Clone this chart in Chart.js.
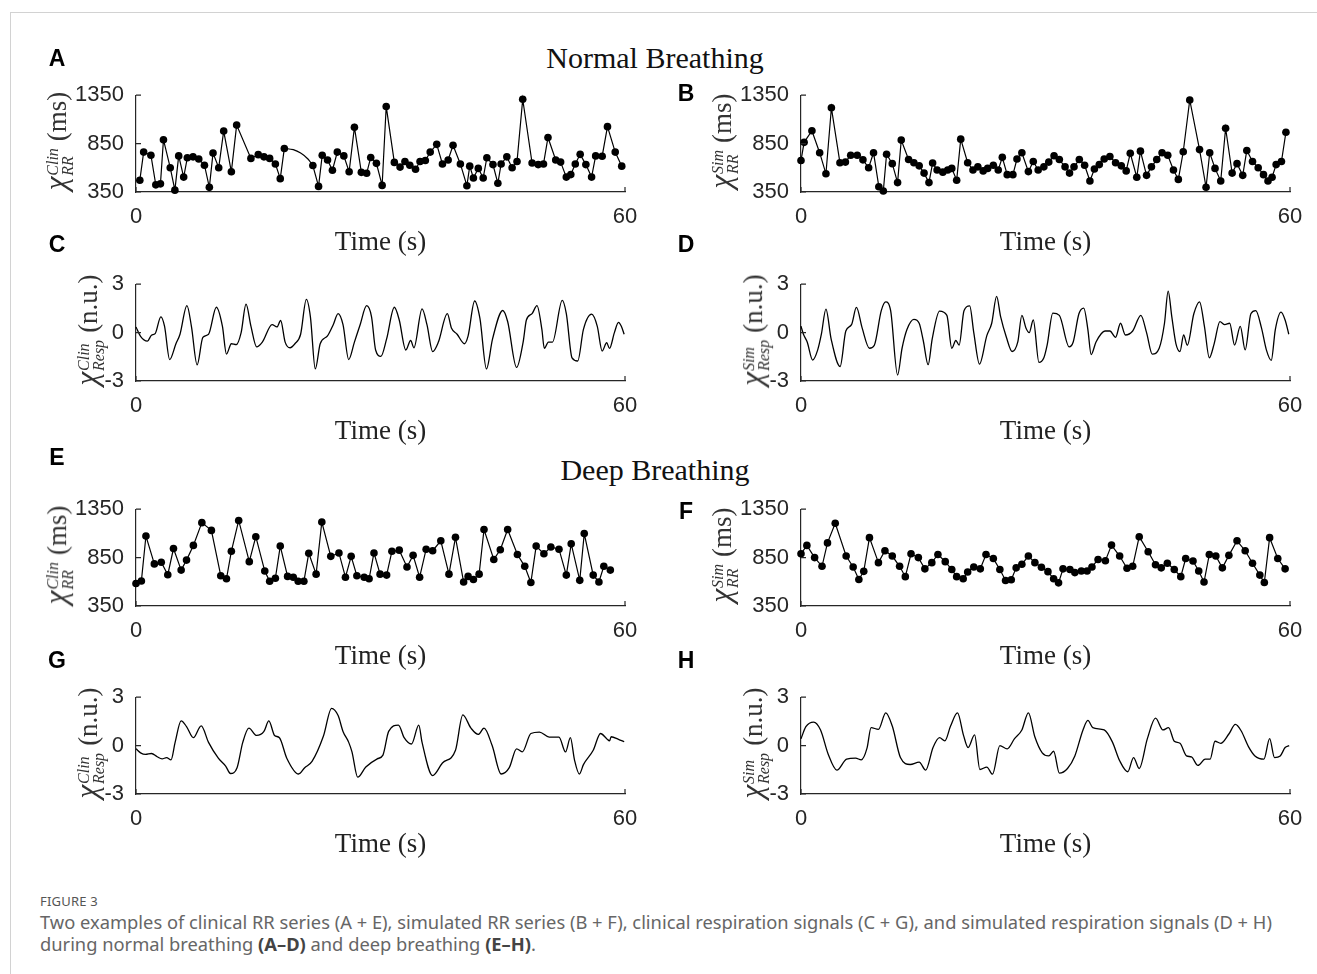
<!DOCTYPE html>
<html>
<head>
<meta charset="utf-8">
<script src="https://cdn.jsdelivr.net/npm/chart.js@4.4.1/dist/chart.umd.min.js"></script>
<style>
  html, body { margin: 0; padding: 0; background: #fff; overflow: hidden; }
  #page { position: relative; width: 1317px; height: 974px; overflow: hidden; }
  #frame { position: absolute; left: 10px; top: 12px; width: 1320px; height: 970px;
           border-left: 1.5px solid #d2d2d2; border-top: 1.5px solid #d2d2d2; }
  canvas { position: absolute; }
  .letter { position: absolute; transform: translate(-50%, -50%);
            font: bold 23px "Liberation Sans", Arial, sans-serif; color: #000; }
  .title { position: absolute; transform: translate(-50%, -50%); white-space: nowrap;
           font: 30px "Liberation Serif", "Times New Roman", serif; color: #111; }
  .ylab { position: absolute; transform: translate(-50%, -50%) rotate(-90deg); white-space: nowrap;
          font: 27px "Liberation Serif", "Times New Roman", serif; color: #333; line-height: 34px; }
  .ylab .chi { font-style: italic; font-size: 31px; }
  .ylab .scr { display: inline-flex; flex-direction: column; vertical-align: middle;
               font-style: italic; font-size: 16px; line-height: 15px; margin: 0 7px 0 1px; }
  #caption { position: absolute; left: 40px; top: 891px; font-family: "Noto Sans", "Open Sans", sans-serif; color: #666; }
  #caption .fig { font-size: 13px; color: #555; line-height: 20px; letter-spacing: 0.2px; }
  #caption .line { font-size: 16px; line-height: 22px; white-space: nowrap; }
  #caption b { color: #444; }
</style>
</head>
<body>
<div id="page">
  <div id="frame"></div>
  <div class="title" style="left:655px; top:58px">Normal Breathing</div>
  <div class="title" style="left:655px; top:470px">Deep Breathing</div>
  <div id="caption">
    <div class="fig">FIGURE 3</div>
    <div class="line" id="cap1">Two examples of clinical RR series (A + E), simulated RR series (B + F), clinical respiration signals (C + G), and simulated respiration signals (D + H)</div>
    <div class="line" id="cap2">during normal breathing <b>(A–D)</b> and deep breathing <b>(E–H)</b>.</div>
  </div>
</div>
<script>
// ---- data ----
const timeTicks = [0, 60];
const rrTicks = [350, 850, 1350];
const respTicks = [-3, 0, 3];

// A: clinical RR, normal breathing
const rrA_t = [0.47,0.94,1.83,2.43,3.0,3.37,4.2,4.77,5.24,5.85,6.3,7.0,7.7,8.4,9.0,9.45,10.15,10.76,11.7,12.35,14.1,15.0,15.7,16.4,17.1,17.7,18.2,21.7,22.4,22.85,23.5,24.1,24.7,25.5,26.15,26.8,27.65,28.3,28.8,29.5,30.2,30.7,31.7,32.4,33.0,33.6,34.3,34.85,35.5,36.1,36.9,37.6,38.3,38.9,39.8,40.6,40.95,41.4,42.0,42.6,43.05,43.8,44.4,44.8,45.5,46.15,46.75,47.45,48.6,49.35,50.0,50.55,51.5,52.1,52.8,53.35,53.9,54.5,55.2,55.9,56.4,57.2,57.85,58.8,59.6];
const rrA_v = [472,762,730,424,434,890,601,369,723,504,704,713,691,627,398,752,601,980,559,1041,697,736,713,697,640,488,800,623,408,730,681,575,762,723,559,1019,553,543,707,646,418,1234,656,607,665,627,585,665,675,762,842,640,681,832,640,415,617,495,594,495,704,633,440,640,713,601,665,1308,649,633,640,913,681,659,504,530,640,739,633,504,723,720,1025,762,617];
// curved (interpolated) stretch in A between two beats
const gapA_t = [18.2, 19.3, 20.2, 21.1, 21.7];
const gapA_v = [800, 787, 752, 691, 623];

// B: simulated RR, normal breathing
const rrB_t = [0,0.38,1.34,2.29,3.06,3.73,4.78,5.45,6.1,6.9,7.6,8.3,8.9,9.55,10.1,10.5,11.2,11.85,12.3,13.2,13.85,14.5,15.1,15.7,16.15,16.7,17.4,18.0,18.5,19.1,19.6,20.45,21.1,21.7,22.35,22.9,23.6,24.2,24.7,25.3,26.0,26.5,27.1,27.9,28.5,29.1,29.8,30.4,31.05,31.7,32.4,32.95,33.5,34.15,34.8,35.45,36.0,36.6,37.2,37.9,38.6,39.3,39.9,40.4,41.2,41.65,42.4,43.0,43.65,44.3,45.0,45.7,46.3,46.9,47.7,48.9,49.7,50.15,50.8,51.5,52.1,52.9,53.5,54.2,54.7,55.4,56.1,56.75,57.3,57.8,58.3,58.95,59.5];
const rrB_v = [675,863,983,756,538,1220,652,659,730,730,682,600,756,405,360,740,643,447,886,685,652,620,545,447,649,578,555,578,594,471,896,652,578,610,568,594,627,578,708,529,529,691,756,561,665,578,610,659,724,685,610,545,610,685,627,464,587,633,691,717,652,620,568,750,503,772,522,610,685,756,730,578,480,766,1301,788,399,756,594,464,1009,545,643,522,779,665,600,529,464,503,633,665,967];

// C: clinical respiration, normal breathing
const respC_t = [0,0.56,1.4,1.9,2.35,3.05,3.5,4.13,4.9,5.4,6.25,6.8,7.5,8.2,8.9,9.86,10.6,11.1,11.7,12.3,12.9,13.5,14.1,14.8,15.5,16.7,17.3,17.75,18.3,18.9,19.5,20.2,20.9,21.4,22.0,22.6,23.5,24.2,24.8,25.4,26.1,26.8,27.5,28.3,28.9,29.4,30.05,30.75,31.7,32.3,33.1,33.7,34.1,35.1,35.7,36.4,37.1,38.2,38.7,39.4,40.3,40.75,41.55,42.2,43.0,43.75,45.0,45.6,46.7,47.5,47.9,48.6,49.2,49.8,50.1,50.6,51.1,52.3,52.8,53.5,54.2,54.9,55.9,56.6,57.2,57.75,58.1,58.7,59.2,59.55,59.9];
const respC_v = [0.35,-0.24,-0.53,-0.16,-0.06,0.98,0.4,-1.67,-0.69,-0.1,1.67,0.39,-2.0,-0.3,-0.1,1.57,0.4,-1.33,-0.69,-0.75,0,1.76,0.4,-0.88,-0.59,0.49,0.35,0.75,-0.59,-0.94,-0.69,-0.1,2.06,0.98,-2.25,-0.69,-0.2,0.49,1.18,0.49,-1.67,-0.59,0.49,1.67,0.98,-1.08,-1.47,-0.39,1.57,0.78,-1.08,-0.49,-0.94,1.47,0.49,-1.18,-0.59,1.18,0.29,-0.1,-0.69,-0.2,1.96,0.88,-2.25,-0.39,1.37,0.69,-2.16,-0.59,0.78,1.18,1.67,0.2,-0.98,-0.59,-0.59,2.0,1.18,-1.57,-1.76,0.2,1.14,0.39,-1.14,-0.63,-0.98,0,0.63,0.39,-0.1];

// D: simulated respiration, normal breathing
const respD_t = [0,0.3,0.76,1.43,2.05,2.5,3.06,3.7,4.8,5.5,6.2,6.8,7.5,8.4,9.0,9.85,10.4,11.0,11.85,12.4,13.0,13.85,14.5,15.0,15.6,16.1,17.0,17.9,18.5,19.0,19.4,20.0,20.7,21.2,21.9,22.8,23.4,24.0,24.5,25.2,25.9,26.6,27.1,27.6,28.0,28.5,29.2,29.8,30.2,30.9,31.7,32.9,33.4,34.1,34.7,35.2,35.6,36.2,37.3,37.9,38.6,39.2,39.8,40.7,41.7,42.4,43.1,43.95,44.6,45.05,45.5,46.0,46.5,46.95,47.4,48.2,48.9,49.5,50.1,50.7,51.4,52.0,52.6,53.2,53.9,54.5,55.2,55.8,56.5,57.1,57.7,58.2,58.9,59.4,59.85];
const respD_v = [0.4,-0.1,-0.58,-1.7,-1.07,-0.1,1.46,-0.4,-2.1,0.1,0.49,1.56,0.29,-0.97,-0.78,1.36,1.9,1.36,-2.63,-0.97,0.19,0.82,0.58,-0.49,-1.99,-0.39,1.33,1.07,-0.97,-0.49,-0.78,1.36,1.66,0,-1.95,-0.19,0.58,2.24,0.97,-0.29,-1.17,-0.58,1.07,0.29,0,0.78,-1.85,-1.56,-0.78,1.21,1.07,-0.88,-0.58,1.17,1.52,0.19,-1.36,-0.58,0.1,0.1,-0.29,0.58,-0.15,0.1,1.07,0,-1.33,-0.97,0.58,2.57,0.97,-0.68,-1.17,-0.15,-0.78,1.17,1.91,0.39,-1.56,-0.68,0.68,0.49,0.58,-0.78,0.39,-1.07,1.17,1.36,0.29,-1.07,-1.72,0.19,1.27,0.78,-0.1];

// E: clinical RR, deep breathing
const rrE_t = [0,0.66,1.22,2.25,3.1,3.9,4.6,5.54,6.2,7.04,8.08,9.25,10.4,11.1,11.7,12.6,13.9,14.7,15.8,16.4,17.1,17.7,18.6,19.3,19.9,20.6,21.2,22.1,22.8,23.9,24.9,25.7,26.4,27.1,28.0,28.6,29.2,29.95,30.75,31.4,32.3,33.25,34.0,34.8,35.6,36.4,37.4,38.4,39.2,40.2,40.75,41.4,42.1,42.7,43.9,44.7,45.6,46.8,47.7,48.45,49.1,50.05,50.9,51.9,52.8,53.4,54.45,55.0,56.1,56.8,57.4,58.2];
const rrE_v = [582,608,1073,785,802,673,944,721,824,976,1211,1131,663,631,915,1234,808,1066,711,605,637,969,656,647,605,605,895,679,1218,863,898,647,863,663,647,631,898,679,669,915,927,753,873,647,937,921,1024,679,1060,598,656,624,679,1140,831,931,1140,882,760,592,969,889,960,937,669,992,615,1098,669,598,760,721];

// F: simulated RR, deep breathing
const rrF_t = [0,0.72,1.67,2.58,3.25,4.2,5.54,6.4,7.1,7.7,8.4,9.5,10.3,11.2,12.1,12.8,13.5,14.4,15.2,16.05,16.8,17.7,18.5,19.1,19.9,20.45,21.2,22.0,22.7,23.6,24.4,25.1,25.8,26.4,27.1,27.9,28.7,29.5,30.3,31.0,31.6,32.15,33.0,33.6,34.4,35.1,35.7,36.45,37.35,38.1,39.1,40.0,40.7,41.5,42.6,43.5,44.2,44.95,45.8,46.6,47.2,48.1,48.8,49.45,50.1,50.9,51.7,52.5,53.5,54.5,55.4,56.3,56.85,57.5,58.5,59.4];
const rrF_v = [889,976,850,760,1002,1205,866,753,624,708,1056,798,921,866,760,653,889,850,734,798,882,808,727,653,631,702,753,734,882,840,727,614,621,744,782,866,798,750,705,631,589,734,727,695,711,711,753,831,818,979,866,740,760,1066,911,776,744,792,727,653,840,815,711,598,882,866,744,873,1024,921,792,669,592,1056,840,734];

// G: clinical respiration, deep breathing
const respG_t = [0,0.56,1.17,1.9,2.6,3.2,3.75,4.3,4.8,5.54,6.2,7.04,8.0,8.9,10.1,11.0,11.6,12.4,13.1,13.85,14.8,15.7,16.3,17.0,17.6,18.5,19.95,20.7,21.6,23.0,24.0,24.8,25.4,26.1,26.5,27.2,28.2,29.6,30.3,31.0,32.2,32.9,33.8,34.7,35.1,36.4,37.6,39.2,40.1,41.1,42.0,42.7,43.7,44.8,45.8,46.7,47.4,48.45,49.5,50.7,51.9,52.7,53.3,53.8,54.4,54.9,56.1,57.0,57.75,58.1,58.3,59.2,59.9];
const respG_v = [-0.2,-0.45,-0.55,-0.49,-0.69,-0.82,-0.75,-0.88,0.2,1.53,1.18,0.49,1.22,0.2,-0.78,-1.27,-1.73,-1.37,0.2,1.08,0.63,0.88,1.53,0.63,0.49,-0.78,-1.76,-1.37,-0.98,0.59,2.31,1.86,0.88,0.2,-0.39,-1.96,-1.33,-0.82,-0.59,0.88,1.27,0.49,0.1,1.27,0.2,-1.86,-1.08,-0.29,1.9,1.08,0.69,1.08,0,-1.76,-1.37,-0.2,-0.39,0.75,0.84,0.53,0.53,-0.39,0.49,-0.88,-1.76,-1.18,-0.29,0.75,0.43,0.29,0.55,0.39,0.24];

// H: simulated respiration, deep breathing
const respH_t = [0,0.6,1.55,2.4,3.35,4.4,5.6,6.7,7.4,8.1,8.6,9.5,10.4,11.2,12.2,13.4,14.5,15.3,16.2,17.0,17.65,18.35,19.2,19.95,20.5,21.3,21.95,22.8,23.5,24.4,25.3,26.2,27.1,27.9,28.7,29.6,30.4,31.0,31.7,32.7,33.6,34.6,35.2,35.8,37.2,38.2,39.1,40.1,40.8,41.5,42.5,43.5,44.4,45.1,45.8,46.5,47.3,47.9,48.7,49.6,50.2,50.8,51.5,52.5,53.3,54.0,54.9,55.7,56.8,57.5,58.1,58.8,59.4,59.9];
const respH_v = [0.43,1.17,1.46,0.97,-0.55,-1.52,-0.84,-0.78,-0.88,-0.16,1.11,1.01,2.03,1.21,-0.74,-1.17,-1.03,-1.52,-0.12,0.49,0.29,1.21,2.03,0.62,-0.12,0.66,-1.48,-1.33,-1.77,0,-0.2,0.43,0.97,2.03,0.53,-0.45,-0.64,-0.35,-1.71,-1.42,-0.64,0.97,1.56,1.11,0.97,0.23,-0.94,-1.62,-0.74,-1.42,0.43,1.7,0.97,1.11,0.27,0.14,-0.64,-0.7,-1.23,-0.84,-0.84,0.27,0.14,0.72,1.31,0.92,-0.06,-0.64,-0.84,0.43,-0.74,-0.64,-0.12,0];

// ---- layout ----
const INK = '#262626';
const TICK_FONT = { family: '"Liberation Sans", Arial, Helvetica, sans-serif', size: 22 };
const page = document.getElementById('page');
const colX = [0, 665], colW = [660, 652], padRight = [35, 27];
const rowTop = [90, 279, 504, 692];
const PLOT_H = 102, Y_W = 136, X_H = 67, PAD_TOP = 20;

const panels = [
  { letter: 'A', col: 0, row: 0, kind: 'rr',   t: rrA_t,   v: rrA_v,   sup: 'Clin', lx: 57,  ly: 58 },
  { letter: 'B', col: 1, row: 0, kind: 'rr',   t: rrB_t,   v: rrB_v,   sup: 'Sim',  lx: 686, ly: 93 },
  { letter: 'C', col: 0, row: 1, kind: 'resp', t: respC_t, v: respC_v, sup: 'Clin', lx: 57,  ly: 244 },
  { letter: 'D', col: 1, row: 1, kind: 'resp', t: respD_t, v: respD_v, sup: 'Sim',  lx: 686, ly: 244 },
  { letter: 'E', col: 0, row: 2, kind: 'rr',   t: rrE_t,   v: rrE_v,   sup: 'Clin', lx: 57,  ly: 457 },
  { letter: 'F', col: 1, row: 2, kind: 'rr',   t: rrF_t,   v: rrF_v,   sup: 'Sim',  lx: 686, ly: 511 },
  { letter: 'G', col: 0, row: 3, kind: 'resp', t: respG_t, v: respG_v, sup: 'Clin', lx: 57,  ly: 660 },
  { letter: 'H', col: 1, row: 3, kind: 'resp', t: respH_t, v: respH_v, sup: 'Sim',  lx: 686, ly: 660 },
];

// MATLAB style ticks pointing into the plot
const inwardTicks = {
  id: 'inwardTicks',
  afterDraw(chart) {
    const { ctx, chartArea: a, scales: { x, y } } = chart;
    ctx.save();
    ctx.strokeStyle = INK;
    ctx.lineWidth = 1.2;
    ctx.beginPath();
    y.ticks.forEach(tk => {
      const py = y.getPixelForValue(tk.value);
      ctx.moveTo(a.left, py); ctx.lineTo(a.left + 5, py);
    });
    x.ticks.forEach(tk => {
      const px = x.getPixelForValue(tk.value);
      ctx.moveTo(px, a.bottom); ctx.lineTo(px, a.bottom - 5);
    });
    ctx.stroke();
    ctx.restore();
  }
};

const toXY = (t, v) => t.map((x, i) => ({ x, y: v[i] }));

function makePanel(p) {
  const isRR = p.kind === 'rr';
  const c = document.createElement('canvas');
  c.width = colW[p.col];
  c.height = PAD_TOP + PLOT_H + X_H;
  c.style.left = colX[p.col] + 'px';
  c.style.top = (rowTop[p.row] - PAD_TOP) + 'px';
  page.appendChild(c);

  const datasets = [{
    data: toXY(p.t, p.v),
    borderColor: '#000',
    borderWidth: isRR ? 1.2 : 1.3,
    pointRadius: isRR ? 3.8 : 0,
    pointBackgroundColor: '#000',
    pointBorderWidth: 0,
    pointHoverRadius: 0,
    cubicInterpolationMode: isRR ? 'default' : 'monotone',
    tension: 0,
    clip: 8,
  }];
  if (p.letter === 'A') {
    // hide the straight segment and draw the smooth interpolated stretch instead
    datasets[0].segment = { borderColor: ctx => ctx.p0.parsed.x === gapA_t[0] ? 'rgba(0,0,0,0)' : undefined };
    datasets.push({ data: toXY(gapA_t, gapA_v), borderColor: '#000', borderWidth: 1.2,
                    pointRadius: 0, cubicInterpolationMode: 'monotone' });
  }

  const yTicks = isRR ? rrTicks : respTicks;
  new Chart(c, {
    type: 'line',
    data: { datasets },
    plugins: [inwardTicks],
    options: {
      responsive: false,
      animation: false,
      events: [],
      layout: { padding: { top: PAD_TOP, right: padRight[p.col], left: 0, bottom: 0 } },
      plugins: { legend: { display: false }, tooltip: { enabled: false } },
      scales: {
        x: {
          type: 'linear', min: 0, max: 60,
          afterBuildTicks: s => { s.ticks = timeTicks.map(value => ({ value })); },
          afterFit: s => { s.height = X_H; },
          grid: { display: false, drawTicks: false },
          border: { display: true, color: INK, width: 1.2 },
          ticks: { padding: 12, color: INK, maxRotation: 0, autoSkip: false,
                   font: TICK_FONT, callback: v => String(v) },
          title: { display: true, text: 'Time (s)', color: '#222', padding: 0,
                   font: { family: '"Liberation Serif", "Times New Roman", serif', size: 27 } }
        },
        y: {
          type: 'linear', min: yTicks[0], max: yTicks[yTicks.length - 1],
          afterBuildTicks: s => { s.ticks = yTicks.map(value => ({ value })); },
          afterFit: s => { s.width = Y_W; },
          grid: { display: false, drawTicks: false },
          border: { display: true, color: INK, width: 1.2 },
          ticks: { padding: 12, color: INK, font: TICK_FONT, callback: v => String(v) }
        }
      }
    }
  });

  // panel letter
  const L = document.createElement('div');
  L.className = 'letter';
  L.textContent = p.letter;
  L.style.left = p.lx + 'px';
  L.style.top = p.ly + 'px';
  page.appendChild(L);

  // rotated y label: X^{Clin}_{RR} (ms)
  const Y = document.createElement('div');
  Y.className = 'ylab';
  Y.innerHTML = '<span class="chi">χ</span><span class="scr"><span>' + p.sup + '</span><span>' +
                (isRR ? 'RR' : 'Resp') + '</span></span>' + (isRR ? '(ms)' : '(n.u.)');
  Y.style.left = (colX[p.col] + (isRR ? 57 : 88)) + 'px';
  Y.style.top = (rowTop[p.row] + PLOT_H / 2) + 'px';
  page.appendChild(Y);
}

panels.forEach(makePanel);

// size the caption so its first line spans the width it has in the figure
const cap1 = document.getElementById('cap1');
const cap2 = document.getElementById('cap2');
const target = 1232;
const size = 16 * target / cap1.scrollWidth;
cap1.style.fontSize = size.toFixed(2) + 'px';
cap2.style.fontSize = size.toFixed(2) + 'px';
</script>
</body>
</html>
